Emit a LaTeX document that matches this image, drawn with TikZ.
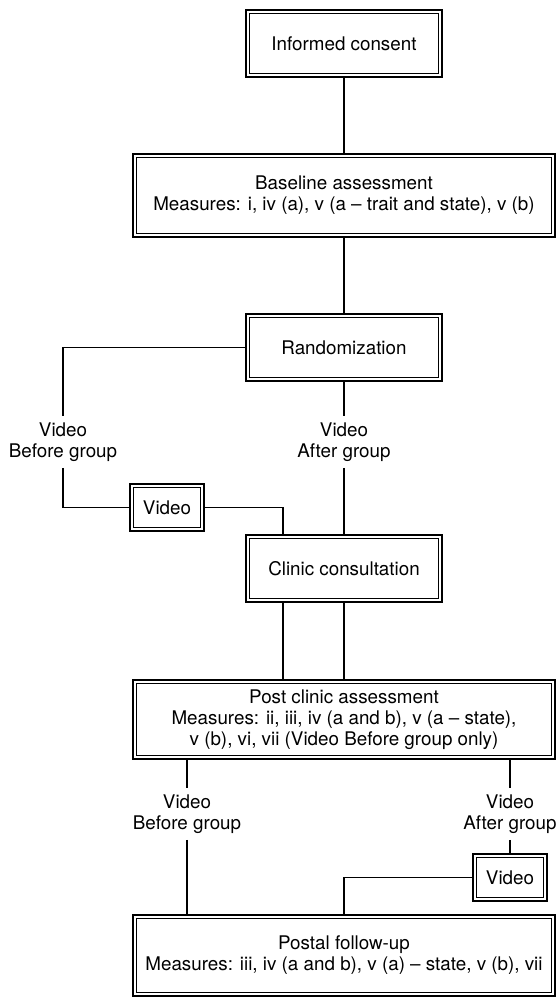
\documentclass[tikz,border=0pt]{standalone}
\usepackage{fontspec}
\setmainfont{TeX Gyre Heros}
\usetikzlibrary{backgrounds}
\begin{document}
	\begin{tikzpicture}[x=0.5pt,y=-0.5pt,
		every node/.style={font=\fontsize{9.4pt}{10.5pt}\selectfont},
		box/.style={draw,double,line width=0.8pt,double distance=1.1pt,align=center,inner sep=0pt},
		narrow/.style={box,minimum width=96.3pt,minimum height=31.8pt},
		wide/.style={box,minimum width=209.3pt,minimum height=#1},
		vbox/.style={box,minimum width=35.3pt,minimum height=21.8pt},
		tag/.style={align=center,inner xsep=1pt,inner ysep=3pt},
		link/.style={line width=0.8pt}]
		\useasboundingbox (0,0) rectangle (557,998);
		\node [narrow] (0) at (344,43.5) {Informed consent};
		\node [wide=39.8pt] (1) at (344,195.5) {Baseline assessment\\Measures: i, iv (a), v (a -- trait and state), v (b)};
		\node [narrow] (2) at (344,347.5) {Randomization};
		\node [vbox] (3) at (167,507.5) {Video};
		\node [narrow] (4) at (344,568.5) {Clinic consultation};
		\node [wide=37.8pt] (5) at (344,719.5) {Post clinic assessment\\Measures: ii, iii, iv (a and b), v (a -- state),\\v (b), vi, vii (Video Before group only)};
		\node [vbox] (6) at (510,877.5) {Video};
		\node [wide=38.8pt] (7) at (344,955.5) {Postal follow-up\\Measures: iii, iv (a and b), v (a) -- state, v (b), vii};
		\node [tag] (8) at (63,442) {Video\\Before group};
		\node [tag] (9) at (344,442) {Video\\After group};
		\node [tag] (10) at (187,814) {Video\\Before group};
		\node [tag] (11) at (510,814) {Video\\After group};
		\coordinate (12) at (283,0);
		\begin{scope}[on background layer]
			\draw [link] (0) -- (1);
			\draw [link] (1) -- (2);
			\draw [link] (2.west) -| (8.north);
			\draw [link] (8.south) |- (3.west);
			\draw [link] (3.east) -| (4.north -| 12);
			\draw [link] (2.south) -- (9.north);
			\draw [link] (9.south) -- (4.north);
			\draw [link] (4.south -| 12) -- (5.north -| 12);
			\draw [link] (4.south) -- (5.north);
			\draw [link] (5.south -| 10) -- (10.north);
			\draw [link] (10.south) -- (7.north -| 10);
			\draw [link] (5.south -| 11) -- (11.north);
			\draw [link] (11.south) -- (6.north);
			\draw [link] (6.west) -| (7.north);
		\end{scope}
	\end{tikzpicture}
\end{document}
